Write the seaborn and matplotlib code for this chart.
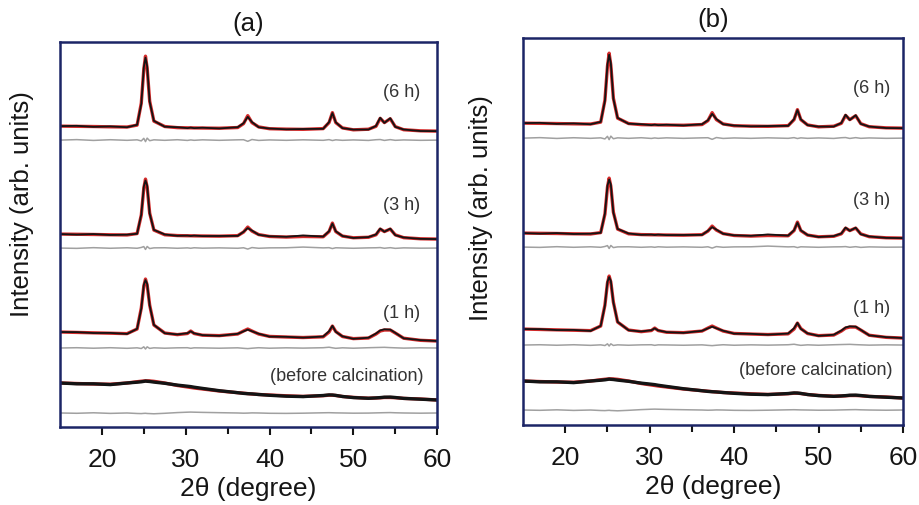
"""XRD Rietveld refinement patterns, two panels (a) and (b)."""
import numpy as np
import seaborn as sns
import matplotlib.pyplot as plt

sns.set_theme(style="white")
plt.rcParams["font.family"] = ["Liberation Sans", "DejaVu Sans"]
plt.rcParams["text.color"] = "#151515"
plt.rcParams["axes.labelcolor"] = "#151515"
plt.rcParams["xtick.color"] = "#151515"

# 2-theta grid (degree)
two_theta = [15, 17, 19, 21, 23, 24.2, 24.7, 25.0, 25.2, 25.4, 25.7, 26.2, 27.5, 29,
             30.2, 30.6, 31.0, 32, 34, 36.2, 36.9, 37.4, 37.9, 38.7, 40, 42, 44,
             46.4, 47.1, 47.5, 47.9, 48.7, 50, 51.8, 52.7, 53.2, 53.7, 54.4, 55.0,
             56, 58, 60]

# calculated profiles (arb. units above each pattern's baseline)
calc_6h = [5, 4.8, 4.6, 4.3, 4.1, 6, 28, 62, 75, 63, 30, 10, 4.6, 3.5,
           3.3, 3.3, 3.2, 3.1, 2.9, 3.6, 7.5, 15.5, 8.5, 4.2, 2.4, 2.0, 1.8,
           2.5, 8.5, 18.5, 8.5, 3.2, 1.3, 1.9, 4.8, 12.8, 8.5, 12.4, 4.5,
           1.4, 0.3, 0]
calc_3h = [5, 4.8, 4.6, 4.3, 4.1, 5.5, 24, 51, 60, 52, 26, 9, 4.3, 3.5,
           3.3, 3.3, 3.2, 3.1, 2.9, 3.4, 7, 12, 8, 4.5, 2.6, 2.0, 2.6,
           2.3, 7.5, 16, 7.5, 3, 1.3, 1.8, 4.3, 10, 7.5, 10, 4.2,
           1.4, 0.3, 0]
calc_1h = [9, 8.6, 8.2, 7.8, 7.4, 12, 33, 55, 62, 56, 36, 16, 8, 6.4,
           7.5, 10, 7.5, 5.8, 5.4, 7, 10, 12, 10, 7, 4.6, 4.0, 3.5,
           4.2, 9, 15, 9.5, 4.5, 2.4, 3, 7, 10, 11, 11, 8,
           2.8, 0.7, 0]
calc_before = [17, 16.5, 16, 15.8, 17, 18.3, 18.8, 19, 19.2, 19.2, 19.1, 18.7, 17, 14.5,
               13, 12.5, 12, 11, 9, 7.3, 6.8, 6.4, 6, 5.5, 5, 4.2, 3.6,
               4.3, 4.8, 4.8, 4.5, 3.5, 2.6, 1.8, 2, 2.2, 2.5, 2.5, 2.3,
               1.6, 1, 0]

# difference curves (obs - calc)
diff_6h = [0, 0.5, -0.3, 0.4, -0.2, 0.3, -0.8, 1.8, -1.5, 2.0, -0.6, 0.3, -0.2, 0.4,
           -0.3, 0.2, -0.2, 0.3, -0.2, 0.3, 0.4, -1.2, 0.6, -0.3, 0.2, -0.2, 0.3,
           -0.2, 0.5, -0.4, 0.3, -0.2, 0.2, -0.3, 0.4, 0.6, -0.3, 0.5, -0.2,
           0.2, -0.2, 0]
diff_3h = [0, -0.3, 0.4, -0.2, 0.3, -0.2, 0.6, 1.5, -1.4, 1.6, -0.5, 0.2, 0.3, -0.2,
           0.2, -0.2, 0.3, -0.1, 0.2, -0.2, 0.3, -1.0, 0.5, -0.2, 0.2, 0.3, 1.0,
           0.2, 0.4, -0.5, 0.3, 0.1, -0.2, 0.2, 0.3, 0.5, -0.2, 0.4, -0.3,
           0.2, -0.1, 0]
diff_1h = [0, 0.3, -0.2, 0.3, -0.3, 0.2, -0.5, 1.2, -1.0, 1.2, -0.4, 0.2, -0.2, 0.2,
           0.3, -0.3, 0.2, 0.1, -0.2, 0.2, -0.3, -0.6, -0.2, 0.3, -0.2, 0.2, -0.1,
           0.3, 0.8, 0.2, -0.3, 0.2, -0.2, 0.3, 0.5, 0.6, 0.7, 0.4, 0.2,
           -0.1, 0.2, 0]
diff_before = [0, -0.3, 0.2, -0.4, 0, -0.5, -0.6, -0.4, -0.3, -0.5, -0.6, -0.8, -0.3, 0.4,
               0.8, 0.9, 0.8, 0.6, 0.3, 0, -0.2, -0.1, 0.1, 0, -0.3, -0.4, -0.2,
               0.2, 0.3, 0.2, 0.1, 0, -0.2, -0.1, 0.1, 0.2, 0.3, 0.4, 0.2,
               0, -0.2, 0]

labels = ["(6 h)", "(3 h)", "(1 h)", "(before calcination)"]
calcs = [calc_6h, calc_3h, calc_1h, calc_before]
diffs = [diff_6h, diff_3h, diff_1h, diff_before]

# vertical stacking offsets per panel
offsets_a = [296, 188, 86, 27]
diff_offsets_a = [287, 179, 79, 14]
offsets_b = [297, 187, 87, 27]
diff_offsets_b = [287, 178, 80, 15]

panels = [
    dict(title="(a)", rect=[0.0652, 0.1545, 0.410, 0.762], ytop=385,
         offs=offsets_a, doffs=diff_offsets_a, ylab=(-0.07, 0.579),
         lab_pos=[(55.8, 335), (55.8, 222), (55.8, 114), (49.2, 51)]),
    dict(title="(b)", rect=[0.5685, 0.1584, 0.413, 0.766], ytop=387,
         offs=offsets_b, doffs=diff_offsets_b, ylab=(-0.08, 0.561),
         lab_pos=[(56.3, 337), (56.3, 225), (56.3, 117), (49.7, 55)]),
]

navy = "#1c2566"
fig = plt.figure(figsize=(9.2, 5.05), dpi=100)

for p in panels:
    ax = fig.add_axes(p["rect"])
    offs, doffs = p["offs"], p["doffs"]
    for i, (calc, diff) in enumerate(zip(calcs, diffs)):
        calc = np.array(calc)
        obs = calc + np.array(diff)
        lw_obs = 2.4 if i == 3 else 1.3
        sns.lineplot(x=two_theta, y=calc + offs[i], ax=ax, color="#d42a2a", lw=2.4,
                     sort=False)
        sns.lineplot(x=two_theta, y=obs + offs[i], ax=ax, color="#141414", lw=lw_obs,
                     sort=False)
        sns.lineplot(x=two_theta, y=np.array(diff) + doffs[i], ax=ax, color="#a0a0a0",
                     lw=1.1, sort=False)
        ax.text(p["lab_pos"][i][0], p["lab_pos"][i][1], labels[i], ha="center",
                va="center", fontsize=13, color="#333333")

    ax.set_xlim(15, 60)
    ax.set_ylim(0, p["ytop"])
    ax.set_xticks([20, 30, 40, 50, 60])
    ax.set_xticks([25, 35, 45, 55], minor=True)
    ax.set_yticks([])
    ax.tick_params(axis="x", which="major", direction="out", length=6, width=1.5,
                   labelsize=19, pad=9, bottom=True)
    ax.tick_params(axis="x", which="minor", direction="out", length=5, width=1.5,
                   bottom=True)
    for sp in ax.spines.values():
        sp.set_color(navy)
        sp.set_linewidth(1.8)
    ax.set_xlabel("2θ (degree)", fontsize=19, labelpad=4)
    ax.set_ylabel("Intensity (arb. units)", fontsize=18.5)
    ax.yaxis.set_label_coords(*p["ylab"])
    ax.set_title(p["title"], fontsize=18.5, pad=8)

fig.savefig("out.png", dpi=100)
